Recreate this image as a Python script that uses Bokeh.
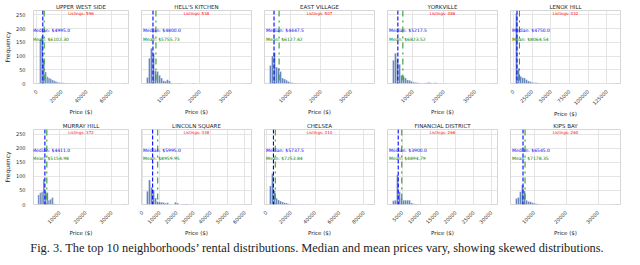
import math
import numpy as np
from bokeh.plotting import figure
from bokeh.layouts import column, row
from bokeh.models import Range1d, FixedTicker, Label, Span, Div, NumeralTickFormatter
from bokeh.embed import file_html
from bokeh.resources import INLINE

neighborhoods = ["UPPER WEST SIDE", "HELL'S KITCHEN", "EAST VILLAGE", "YORKVILLE", "LENOX HILL",
                 "MURRAY HILL", "LINCOLN SQUARE", "CHELSEA", "FINANCIAL DISTRICT", "KIPS BAY"]
listings = [596, 538, 507, 486, 432, 372, 338, 310, 266, 260]
medians = [4995.0, 4800.0, 4447.5, 5217.5, 4750.0, 4411.0, 5995.0, 5737.5, 3900.0, 6545.0]
means = [6102.30, 5755.73, 6127.42, 6823.52, 8064.54, 5154.98, 8959.95, 7253.84, 4894.79, 7178.35]
price_min = [1000, 2700, 2950, 3500, 2750, 1700, 2400, 2500, 2300, 4200]
price_max = [70000, 35100, 36100, 35600, 136700, 34800, 61000, 84700, 30300, 35400]
x_ticks = [
    [0, 20000, 40000, 60000],
    [10000, 20000, 30000],
    [10000, 20000, 30000],
    [10000, 20000, 30000],
    [0, 25000, 50000, 75000, 100000, 125000],
    [10000, 20000, 30000],
    [0, 10000, 20000, 30000, 40000, 50000, 60000],
    [0, 20000, 40000, 60000, 80000],
    [5000, 10000, 15000, 20000, 25000, 30000],
    [10000, 20000, 30000],
]
y_ticks = [0, 50, 100, 150, 200, 250]

# histogram counts, 50 equal bins between price_min and price_max
counts_uws = [2, 160, 172, 85, 42, 25, 20, 17, 13, 10, 7, 5, 4, 3, 3, 2, 2, 2, 1, 1,
              1, 1, 1, 0, 1, 1, 0, 1, 0, 0, 1, 0, 0, 1, 0, 0, 0, 0, 0, 0,
              0, 0, 0, 0, 0, 0, 0, 0, 0, 1]
counts_hk = [22, 92, 128, 108, 46, 44, 30, 20, 10, 8, 14, 9, 2, 1, 1, 1, 2, 1, 0, 0,
             0, 0, 0, 2, 0, 0, 0, 0, 0, 0, 0, 0, 0, 0, 0, 0, 0, 0, 0, 0,
             0, 0, 0, 0, 0, 0, 0, 0, 0, 1]
counts_ev = [66, 100, 112, 60, 56, 44, 20, 16, 12, 7, 4, 3, 2, 1, 1, 1, 0, 1, 0, 0,
             1, 0, 0, 0, 0, 0, 0, 0, 0, 0, 0, 0, 0, 0, 0, 0, 0, 0, 0, 0,
             0, 0, 0, 0, 0, 0, 0, 0, 0, 1]
counts_york = [85, 110, 88, 70, 30, 26, 20, 13, 12, 8, 5, 4, 3, 2, 1, 1, 2, 3, 4, 2,
               1, 3, 1, 0, 1, 0, 1, 0, 0, 0, 0, 0, 0, 0, 0, 0, 0, 0, 0, 0,
               0, 0, 0, 0, 0, 0, 0, 0, 0, 1]
counts_lenox = [255, 55, 26, 22, 20, 14, 9, 6, 4, 3, 3, 2, 2, 1, 1, 1, 1, 1, 0, 1,
                0, 1, 0, 0, 0, 0, 0, 0, 0, 0, 0, 0, 0, 0, 0, 0, 0, 0, 0, 0,
                0, 0, 0, 0, 0, 0, 0, 0, 0, 1]
counts_murray = [34, 42, 45, 90, 47, 43, 15, 19, 25, 3, 2, 2, 1, 1, 1, 0, 1, 0, 0, 0,
                 0, 0, 0, 0, 0, 0, 0, 0, 0, 0, 0, 0, 0, 0, 0, 0, 0, 0, 0, 0,
                 0, 0, 0, 0, 0, 0, 0, 0, 0, 1]
counts_lincoln = [47, 87, 61, 51, 23, 11, 9, 8, 7, 4, 6, 1, 1, 0, 8, 5, 0, 0, 1, 2,
                  2, 0, 1, 0, 0, 0, 0, 0, 0, 0, 0, 0, 0, 0, 0, 0, 0, 0, 0, 0,
                  0, 0, 0, 0, 0, 0, 0, 0, 0, 1]
counts_chelsea = [66, 110, 50, 22, 16, 12, 9, 6, 5, 3, 2, 2, 1, 1, 1, 0, 1, 0, 0, 1,
                  0, 0, 0, 0, 0, 0, 0, 0, 0, 0, 0, 0, 0, 0, 0, 0, 0, 0, 0, 0,
                  0, 0, 0, 0, 0, 0, 0, 0, 0, 1]
counts_fidi = [13, 15, 105, 45, 21, 15, 15, 15, 15, 5, 3, 2, 2, 1, 1, 1, 0, 1, 0, 0,
               0, 0, 0, 0, 0, 0, 0, 0, 0, 0, 0, 0, 0, 0, 0, 0, 0, 0, 0, 0,
               0, 0, 0, 0, 0, 0, 0, 0, 0, 1]
counts_kips = [21, 25, 45, 68, 48, 15, 11, 10, 6, 4, 3, 2, 1, 1, 0, 1, 0, 0, 0, 0,
               0, 0, 0, 0, 0, 0, 0, 0, 0, 0, 0, 0, 0, 0, 0, 0, 0, 0, 0, 0,
               0, 0, 0, 0, 0, 0, 0, 0, 0, 1]
counts = [counts_uws, counts_hk, counts_ev, counts_york, counts_lenox,
          counts_murray, counts_lincoln, counts_chelsea, counts_fidi, counts_kips]

FONT = "DejaVu Sans"
BAR = "#4c72b0"
GRID = "#dedede"
FRAME_W = 110
STAT_FS = 4.5

# approximate DejaVu Sans advance widths (em) to keep centred stat labels inside the frame
_W = {"M": .863, "e": .615, "d": .635, "i": .278, "a": .613, "n": .634, ":": .337,
      " ": .318, "$": .636, ".": .318}


def text_px(s, fs):
    return sum(_W.get(c, .636) for c in s) * fs


def stat_label(xr, value, y, text, color):
    per_px = (xr.end - xr.start) / FRAME_W
    half = (text_px(text, STAT_FS) / 2 + 1.5) * per_px
    x = min(max(value, xr.start + half), xr.end - half)
    return Label(x=x, y=y, text=text, text_align="center", text_baseline="middle",
                 text_font=FONT, text_font_size=f"{STAT_FS}px", text_color=color)


def panel(i, first_col):
    lo, hi = price_min[i], price_max[i]
    pad = 0.05 * (hi - lo)
    xr = Range1d(lo - pad, hi + pad)
    yr = Range1d(0, 266)
    left_b = 18 if first_col else 7
    p = figure(width=left_b + FRAME_W + 6, height=119, x_range=xr, y_range=yr,
               output_backend="svg", toolbar_location=None, title=neighborhoods[i],
               min_border_left=left_b, min_border_right=6, min_border_top=10,
               min_border_bottom=26)
    p.title.align = "center"
    p.title.text_font = FONT
    p.title.text_font_size = "5.5px"
    p.title.text_font_style = "normal"
    p.title.text_color = "#222222"
    p.title.standoff = 2
    p.outline_line_color = "#cccccc"
    p.outline_line_width = 0.8

    edges = np.linspace(lo, hi, len(counts[i]) + 1)
    p.quad(left=edges[:-1], right=edges[1:], top=counts[i], bottom=0,
           fill_color=BAR, fill_alpha=0.85, line_color="white", line_width=0.3)

    p.add_layout(Span(location=medians[i], dimension="height", line_color="blue",
                      line_dash="4 2", line_width=1.1))
    p.add_layout(Span(location=means[i], dimension="height", line_color="#2ca02c",
                      line_dash="dashdot", line_width=1.1))
    p.add_layout(stat_label(xr, medians[i], 192, f"Median: ${medians[i]:.1f}", "blue"))
    p.add_layout(stat_label(xr, means[i], 162, f"Mean: ${means[i]:.2f}", "green"))
    p.add_layout(Label(x=(xr.start + xr.end) / 2, y=255, text=f"Listings: {listings[i]}",
                       text_align="center", text_baseline="middle", text_font=FONT,
                       text_font_size="4px", text_color="red"))

    xt = FixedTicker(ticks=x_ticks[i])
    p.xaxis.ticker = xt
    p.xgrid.ticker = xt
    p.xaxis.formatter = NumeralTickFormatter(format="0")
    p.xaxis.major_label_orientation = math.pi / 4
    p.xaxis.axis_label = "Price ($)"
    p.xaxis.axis_label_text_font = FONT
    p.xaxis.axis_label_text_font_size = "5.5px"
    p.xaxis.axis_label_text_font_style = "normal"
    p.xaxis.axis_label_standoff = 1
    p.xaxis.major_label_standoff = 1

    yt = FixedTicker(ticks=y_ticks)
    p.yaxis.ticker = yt
    p.ygrid.ticker = yt
    p.yaxis.axis_label = "Frequency"
    p.yaxis.axis_label_text_font = FONT
    p.yaxis.axis_label_text_font_size = "6px"
    p.yaxis.axis_label_text_font_style = "normal"
    p.yaxis.axis_label_standoff = 2
    p.yaxis.major_label_standoff = 2

    for ax in (p.xaxis, p.yaxis):
        ax.major_label_text_font = FONT
        ax.major_label_text_font_size = "5px"
        ax.major_label_text_color = "#333333"
        ax.axis_label_text_color = "#222222"
        ax.axis_line_color = None
        ax.major_tick_line_color = None
        ax.minor_tick_line_color = None
    if not first_col:
        p.yaxis.visible = False

    p.xgrid.grid_line_color = GRID
    p.ygrid.grid_line_color = GRID
    p.xgrid.grid_line_width = 0.8
    p.ygrid.grid_line_width = 0.8
    return p


row1 = row(*[panel(i, i == 0) for i in range(5)])
row2 = row(*[panel(i, i == 5) for i in range(5, 10)])
caption = Div(text="Fig. 3. The top 10 neighborhoods\u2019 rental distributions. Median and mean prices vary, showing skewed distributions.",
              width=624, height=11,
              styles={"font-family": "Liberation Serif", "font-size": "12.4px", "text-align": "center",
                      "line-height": "11px", "color": "#222222", "white-space": "nowrap"})
p = column(row1, row2, caption)

open("out.html", "w").write(file_html(p, INLINE))
